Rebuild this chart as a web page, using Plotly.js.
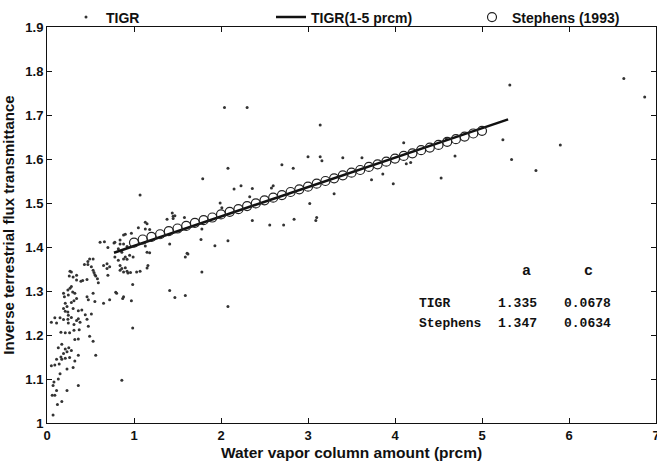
<!DOCTYPE html>
<html><head><meta charset="utf-8">
<script src="https://cdn.plot.ly/plotly-3.0.1.min.js"></script>
<style>html,body{margin:0;padding:0;background:#fff}#chart{width:657px;height:461px}</style>
</head><body><div id="chart"></div>
<script>
// TIGR profiles (scatter)
const tigrX = [0.07,0.12,0.17,0.06,0.09,0.11,0.23,0.07,0.36,0.08,0.13,0.15,0.23,0.30,0.05,0.09,0.14,0.32,0.11,0.17,
0.21,0.26,0.16,0.36,0.56,0.19,0.23,0.28,0.21,0.13,0.25,0.17,0.53,0.32,0.36,0.49,0.16,0.21,0.26,0.31,
0.37,0.475,0.31,0.05,0.38,0.11,0.245,0.34,0.19,0.24,0.46,0.36,0.09,0.15,0.28,0.245,0.44,0.51,0.24,0.21,
0.36,0.40,0.19,0.30,0.23,0.21,0.28,0.55,0.31,0.475,0.34,0.46,0.245,0.19,0.32,0.53,0.295,0.24,0.264,0.28,
0.256,0.30,0.34,0.39,0.41,0.46,0.264,0.47,0.47,0.51,0.53,0.53,0.54,0.55,0.56,0.58,0.59,0.65,0.69,0.69,
0.70,0.65,0.72,0.61,0.66,0.77,0.70,0.72,0.43,0.49,0.28,0.20,0.34,
0.79,0.87,0.80,0.88,0.97,0.985,0.985,0.86,0.82,0.84,0.86,0.88,0.84,0.90,0.93,0.92,0.96,1.03,1.07,1.15,
1.16,0.86,0.90,0.92,0.95,0.78,0.88,0.99,0.82,0.84,0.88,0.92,0.78,0.84,0.90,0.97,0.88,1.05,1.13,1.15,
1.13,1.07,1.18,1.15,1.18,1.13,1.41,1.38,1.44,1.45,1.47,1.45,1.58,1.59,1.62,1.61,1.41,1.47,1.59,1.78,
1.78,1.77,1.79,1.93,1.99,2.01,2.04,2.08,2.08,2.08,2.15,2.23,2.30,2.33,2.36,2.36,2.56,2.58,2.60,2.70,
2.72,2.83,2.84,3.00,3.02,3.09,3.10,3.14,3.14,3.16,3.30,3.40,3.62,3.73,3.86,3.98,4.10,4.13,4.18,4.53,
4.59,4.69,5.24,5.32,5.34,5.62,5.90,6.63,6.87];
const tigrY = [1.018,1.042,1.049,1.063,1.063,1.074,1.074,1.085,1.085,1.093,1.100,1.112,1.123,1.126,1.130,1.132,1.134,1.141,1.145,1.145,
1.147,1.149,1.150,1.154,1.154,1.158,1.162,1.165,1.168,1.171,1.171,1.179,1.186,1.190,1.191,1.197,1.206,1.205,1.205,1.211,
1.212,1.220,1.224,1.229,1.229,1.227,1.227,1.233,1.235,1.236,1.236,1.237,1.239,1.239,1.240,1.245,1.246,1.248,1.252,1.254,
1.255,1.257,1.260,1.260,1.265,1.272,1.274,1.276,1.278,1.280,1.283,1.287,1.291,1.295,1.295,1.295,1.298,1.302,1.306,1.310,
1.334,1.332,1.325,1.322,1.324,1.326,1.345,1.367,1.360,1.355,1.373,1.347,1.342,1.337,1.334,1.328,1.319,1.358,1.362,1.351,
1.336,1.272,1.280,1.411,1.412,1.409,1.399,1.355,1.360,1.373,1.343,1.287,1.336,
1.297,1.283,1.295,1.287,1.278,1.315,1.216,1.097,1.370,1.358,1.351,1.343,1.347,1.353,1.341,1.345,1.342,1.343,1.345,1.352,
1.358,1.388,1.377,1.372,1.381,1.377,1.373,1.377,1.396,1.407,1.407,1.401,1.411,1.416,1.429,1.431,1.427,1.444,1.441,1.453,
1.456,1.518,1.440,1.388,1.387,1.402,1.407,1.463,1.477,1.470,1.471,1.465,1.467,1.377,1.384,1.386,1.301,1.285,1.290,1.343,
1.441,1.417,1.555,1.403,1.500,1.489,1.717,1.579,1.414,1.265,1.532,1.539,1.717,1.514,1.533,1.460,1.450,1.534,1.539,1.587,
1.450,1.579,1.463,1.605,1.499,1.460,1.467,1.677,1.605,1.596,1.521,1.603,1.603,1.553,1.566,1.544,1.637,1.589,1.592,1.557,
1.646,1.607,1.644,1.768,1.599,1.574,1.632,1.783,1.741];

// TIGR fit over 1-5 prcm (line)
const fitX = [0.77, 5.30];
const fitY = [1.387, 1.690];

// Stephens (1993) (open circles)
const stephensX = [1.0,1.1,1.2,1.3,1.4,1.5,1.6,1.7,1.8,1.9,2.0,2.1,2.2,2.3,2.4,2.5,2.6,2.7,2.8,2.9,
3.0,3.1,3.2,3.3,3.4,3.5,3.6,3.7,3.8,3.9,4.0,4.1,4.2,4.3,4.4,4.5,4.6,4.7,4.8,4.9,5.0];
const stephensY = [1.410,1.417,1.423,1.429,1.436,1.442,1.448,1.455,1.461,1.467,1.474,1.480,1.486,1.493,1.499,1.506,1.512,1.518,1.525,1.531,
1.537,1.544,1.550,1.556,1.563,1.569,1.575,1.582,1.588,1.594,1.601,1.607,1.613,1.620,1.626,1.632,1.639,1.645,1.651,1.658,1.664];

// Coefficient table
const tableHeaders = ['a', 'c'];
const tableRows = ['TIGR', 'Stephens'];
const tableA = ['1.335', '1.347'];
const tableC = ['0.0678', '0.0634'];

// Axis ticks
const xTickVals = [0,1,2,3,4,5,6,7];
const xTickText = ['0','1','2','3','4','5','6','7'];
const yTickVals = [1,1.1,1.2,1.3,1.4,1.5,1.6,1.7,1.8,1.9];
const yTickText = ['1','1.1','1.2','1.3','1.4','1.5','1.6','1.7','1.8','1.9'];

const sansFont = 'Liberation Sans, Arial, sans-serif';
const monoFont = 'Liberation Mono, Courier New, monospace';

const traces = [
  {x: tigrX, y: tigrY, type: 'scatter', mode: 'markers', name: 'TIGR', legend: 'legend',
   marker: {size: 3, color: '#333'}},
  {x: fitX, y: fitY, type: 'scatter', mode: 'lines', name: 'TIGR(1-5 prcm)', legend: 'legend2',
   line: {color: '#111', width: 2.5}},
  {x: stephensX, y: stephensY, type: 'scatter', mode: 'markers', name: 'Stephens (1993)', legend: 'legend3',
   marker: {symbol: 'circle-open', size: 9, color: '#222', line: {width: 1.2, color: '#222'}}}
];

// table annotations (paper coords)
const colX = [0.6097, 0.7384, 0.8478];
const headX = [0.7877, 0.8888];
const rowY = [0.3025, 0.2501];
const annotations = [];
tableHeaders.forEach((h, i) => annotations.push({xref:'paper', yref:'paper', x: headX[i], y: 0.3815,
  text: h, showarrow:false, xanchor:'center', yanchor:'middle', font:{family: monoFont, size: 15, color:'#111', weight:'bold'}}));
tableRows.forEach((r, i) => {
  [r, tableA[i], tableC[i]].forEach((t, j) => annotations.push({xref:'paper', yref:'paper', x: colX[j], y: rowY[i],
    text: t, showarrow:false, xanchor:'left', yanchor:'middle', borderpad:0,
    font:{family: monoFont, size: 13, color:'#111', weight:'bold'}}));
});

const legendBase = {orientation:'h', xanchor:'left', yanchor:'middle', y: 1.024,
  bgcolor:'rgba(0,0,0,0)', font:{family: sansFont, size: 14, color:'#111', weight:'bold'}};

const axisBase = {showline:true, linecolor:'#111', linewidth:1, mirror:'allticks', ticks:'inside', ticklen:5,
  tickcolor:'#111', showgrid:false, zeroline:false, ticklabeloverflow:'allow',
  tickfont:{family: sansFont, size: 13, color:'#111', weight:'bold'}};

const layout = {
  width: 657, height: 461,
  margin: {l: 47, r: 1, t: 22, b: 38},
  paper_bgcolor: '#fff', plot_bgcolor: '#fff',
  showlegend: true,
  xaxis: Object.assign({}, axisBase, {range:[0,7], tickvals: xTickVals, ticktext: xTickText,
    title:{text:'Water vapor column amount (prcm)', font:{family: sansFont, size: 15.5, color:'#111', weight:'bold'}}}),
  yaxis: Object.assign({}, axisBase, {range:[1,1.9], tickvals: yTickVals, ticktext: yTickText,
    title:{text:'Inverse terrestrial flux transmittance', font:{family: sansFont, size: 15, color:'#111', weight:'bold'}}}),
  legend: Object.assign({}, legendBase, {x: (66-47)/609}),
  legend2: Object.assign({}, legendBase, {x: (271-47)/609}),
  legend3: Object.assign({}, legendBase, {x: (472-47)/609}),
  annotations: annotations
};

Plotly.newPlot('chart', traces, layout, {displayModeBar:false, staticPlot:true});
</script></body></html>
